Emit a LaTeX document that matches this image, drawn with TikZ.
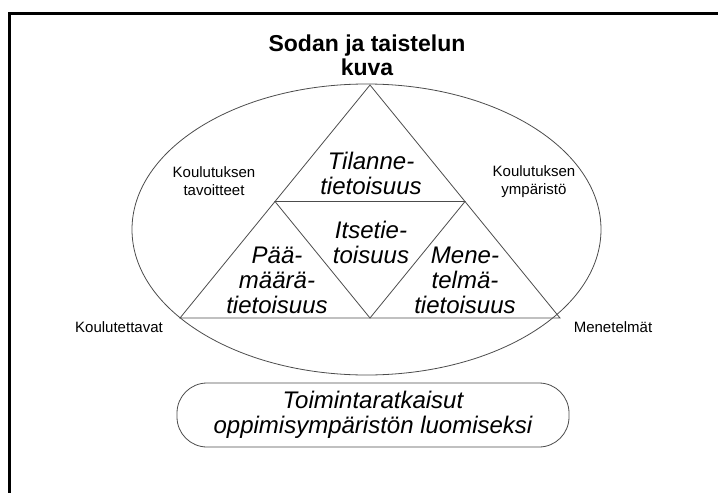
\documentclass[tikz,border=0pt]{standalone}
\usepackage{fontspec}
\setmainfont{Liberation Sans}
\usetikzlibrary{calc}

\tikzset{
  viiva/.style={line width=0.8pt, draw=black!70},
  pieni/.style={align=center, inner sep=0pt, font=\fontsize{15}{18}\selectfont},
  iso/.style={align=center, inner sep=0pt, font=\fontsize{24}{25}\selectfont\itshape},
}

\begin{document}
\begin{tikzpicture}[x=1pt,y=-1pt]
            \useasboundingbox (0,0) rectangle (718,493);

            % Frame, only top and left edges show
            \draw [line width=3pt] (718,13) -- (9,13) -- (9,493);

            % Title
            \node [align=center, inner sep=0pt, font=\fontsize{23}{24}\selectfont\bfseries] (otsikko) at (367,55) {Sodan ja taistelun\\kuva};

            % Ellipse round the triangle
            \draw [viiva] (366.5,229.5) ellipse [x radius=234.5, y radius=145.5];

            % Corners of the big triangle
            \coordinate (huippu) at (370,85);
            \coordinate (vasen) at (180,318);
            \coordinate (oikea) at (560,318);
            \coordinate (vasenkeski) at ($(huippu)!0.5!(vasen)$);
            \coordinate (oikeakeski) at ($(huippu)!0.5!(oikea)$);
            \coordinate (alakeski) at ($(vasen)!0.5!(oikea)$);

            % Drawing big triangle and inner triangle
            \draw [viiva] (huippu) -- (vasen) -- (oikea) -- cycle;
            \draw [viiva] (vasenkeski) -- (oikeakeski) -- (alakeski) -- cycle;

            % Texts in the triangles
            \node [iso] (tilanne) at (371,173) {Tilanne-\\tietoisuus};
            \node [iso] (itse) at (371,242) {Itsetie-\\toisuus};
            \node [iso] (paamaara) at (277,280) {Pää-\\määrä-\\tietoisuus};
            \node [iso] (menetelma) at (465,280) {Mene-\\telmä-\\tietoisuus};

            % Small labels round the ellipse
            \node [pieni] (tavoitteet) at (214,181) {Koulutuksen\\tavoitteet};
            \node [pieni] (ymparisto) at (534,182) {Koulutuksen\\ympäristö};
            \node [pieni] (koulutettavat) at (119,327) {Koulutettavat};
            \node [pieni] (menetelmat) at (613,327) {Menetelmät};

            % Box below
            \node [iso, draw=black!70, line width=0.8pt, rounded corners=30pt, minimum width=392pt, minimum height=64pt] (toiminta) at (373,415) {Toimintaratkaisut\\oppimisympäristön luomiseksi};
\end{tikzpicture}
\end{document}
